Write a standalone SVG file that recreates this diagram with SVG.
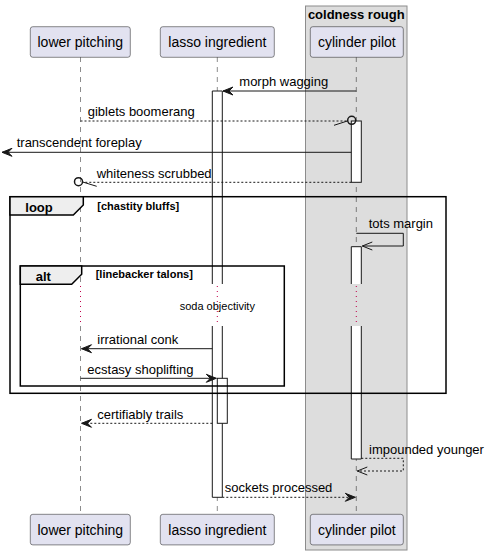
<svg xmlns="http://www.w3.org/2000/svg" width="487" height="555" viewBox="0 0 487 555">
<style>
.part{fill:#E2E2F0;stroke:#181818;stroke-width:0.5}
.pt{font-family:"Liberation Sans",Arial,sans-serif;font-size:14px;fill:#000}
.life{stroke:#181818;stroke-width:0.5;stroke-dasharray:5,5;fill:none}
.act{fill:#FFFFFF;stroke:#181818;stroke-width:1}
.msg{stroke:#181818;stroke-width:1;fill:none}
.dash{stroke-dasharray:2,2}
.ml{font-family:"Liberation Sans",Arial,sans-serif;font-size:13px;fill:#000}
.frame{fill:none;stroke:#000;stroke-width:1.5}
.tab{fill:#EEEEEE;stroke:#000;stroke-width:1.5}
.fl{font-family:"Liberation Sans",Arial,sans-serif;font-size:13px;font-weight:bold;fill:#000}
.fc{font-family:"Liberation Sans",Arial,sans-serif;font-size:11px;font-weight:bold;fill:#000}
.ah{fill:#181818;stroke:#181818;stroke-width:1}
.delay{stroke:#C0004A;stroke-width:1;stroke-dasharray:1,4;fill:none}
</style>
<g id="box-coldness-rough">
<rect x="305.5" y="6" width="101.5" height="544" fill="#DDDDDD" stroke="#8C8C8C" stroke-width="1"/>
<text x="356.3" y="19" text-anchor="middle" class="fl">coldness rough</text>
</g>
<g id="lifelines">
<line class="life" x1="80.5" y1="57" x2="80.5" y2="284"/>
<line class="life" x1="80.5" y1="326" x2="80.5" y2="514"/>
<line class="life" x1="217.3" y1="57" x2="217.3" y2="284"/>
<line class="life" x1="217.3" y1="326" x2="217.3" y2="514"/>
<line class="life" x1="356.3" y1="57" x2="356.3" y2="284"/>
<line class="life" x1="356.3" y1="326" x2="356.3" y2="514"/>
<line class="delay" x1="80.5" y1="286" x2="80.5" y2="326"/>
<line class="delay" x1="217.3" y1="286" x2="217.3" y2="326"/>
<line class="delay" x1="356.3" y1="286" x2="356.3" y2="326"/>
</g>
<g id="activations">
<path class="act" d="M212.3,284 V91 H222.3 V284"/>
<path class="act" d="M212.3,326 V497.3 H222.3 V326"/>
<rect class="act" x="351.3" y="121" width="10" height="61.3"/>
<path class="act" d="M351.3,284 V246.7 H361.3 V284"/>
<path class="act" d="M351.3,326 V459 H361.3 V326"/>
<rect class="act" x="217.3" y="378.3" width="10" height="45"/>
</g>
<g id="frame-loop">
<rect class="frame" x="10" y="196.7" width="436" height="196.6"/>
<polygon class="tab" points="10,196.7 83.3,196.7 83.3,205 73.3,215 10,215"/>
<text x="25.3" y="211.5" class="fl">loop</text>
<text x="97.3" y="210" class="fc">[chastity bluffs]</text>
</g>
<g id="frame-alt">
<rect class="frame" x="20.3" y="266" width="264" height="120"/>
<polygon class="tab" points="20.3,266 81.7,266 81.7,274.3 71.7,284.3 20.3,284.3"/>
<text x="35.7" y="280.5" class="fl">alt</text>
<text x="95.7" y="278" class="fc">[linebacker talons]</text>
</g>
<g id="delay-soda">
<text x="217.3" y="310" text-anchor="middle" font-family="Liberation Sans, Arial, sans-serif" font-size="11" fill="#000">soda objectivity</text>
</g>
<g id="connectors">
<line class="msg" x1="356.3" y1="91" x2="223" y2="91"/>
<polygon class="ah" points="223,91 233,87 229,91 233,95"/>
<text x="239.3" y="86" class="ml">morph wagging</text>

<line class="msg dash" x1="80.5" y1="121" x2="347.5" y2="121"/>
<circle cx="351.7" cy="120.3" r="4" fill="none" stroke="#181818" stroke-width="1.5"/>
<line class="msg" x1="334" y1="125.3" x2="348" y2="120.8"/>
<text x="87.7" y="116" class="ml">giblets boomerang</text>

<line class="msg" x1="351.3" y1="152.3" x2="2" y2="152.3"/>
<polygon class="ah" points="2,152.3 12,148.3 8,152.3 12,156.3"/>
<text x="16.7" y="147" class="ml">transcendent foreplay</text>

<line class="msg dash" x1="351.3" y1="182.3" x2="82.5" y2="182.3"/>
<circle cx="78.5" cy="181.7" r="4" fill="none" stroke="#181818" stroke-width="1.5"/>
<line class="msg" x1="82" y1="181.8" x2="96.7" y2="186.3"/>
<text x="96.7" y="178" class="ml">whiteness scrubbed</text>

<polyline class="msg" points="356.3,233.3 403.3,233.3 403.3,246 362.3,246"/>
<polyline class="msg" points="372.3,242 362.3,246 372.3,250"/>
<text x="368.7" y="228" class="ml">tots margin</text>

<line class="msg" x1="212.3" y1="348.7" x2="81.5" y2="348.7"/>
<polygon class="ah" points="81.5,348.7 91.5,344.7 87.5,348.7 91.5,352.7"/>
<text x="97.3" y="344" class="ml">irrational conk</text>

<line class="msg" x1="80.5" y1="378.3" x2="216.3" y2="378.3"/>
<polygon class="ah" points="216.3,378.3 206.3,374.3 210.3,378.3 206.3,382.3"/>
<text x="87.3" y="374" class="ml">ecstasy shoplifting</text>

<line class="msg dash" x1="212.3" y1="423.3" x2="81.5" y2="423.3"/>
<polygon class="ah" points="81.5,423.3 91.5,419.3 87.5,423.3 91.5,427.3"/>
<text x="97.3" y="418.5" class="ml">certifiably trails</text>

<polyline class="msg dash" points="361.3,458.3 403.3,458.3 403.3,471 357.3,471"/>
<polyline class="msg" points="367.3,467 357.3,471 367.3,475"/>
<text x="369" y="453.5" class="ml">impounded younger</text>

<line class="msg dash" x1="222.3" y1="497.3" x2="355.3" y2="497.3"/>
<polygon class="ah" points="355.3,497.3 345.3,493.3 349.3,497.3 345.3,501.3"/>
<text x="224.7" y="492" class="ml">sockets processed</text>
</g>
<g id="p-lower-pitching">
<rect class="part" x="30.3" y="26.7" width="100" height="30.6" rx="2.5"/>
<text x="80.3" y="47" text-anchor="middle" class="pt">lower pitching</text>
<rect class="part" x="30.3" y="514.3" width="100" height="30.6" rx="2.5"/>
<text x="80.3" y="535" text-anchor="middle" class="pt">lower pitching</text>
</g>
<g id="p-lasso-ingredient">
<rect class="part" x="160.3" y="26.7" width="114" height="30.6" rx="2.5"/>
<text x="217.3" y="47" text-anchor="middle" class="pt">lasso ingredient</text>
<rect class="part" x="160.3" y="514.3" width="114" height="30.6" rx="2.5"/>
<text x="217.3" y="535" text-anchor="middle" class="pt">lasso ingredient</text>
</g>
<g id="p-cylinder-pilot">
<rect class="part" x="310.3" y="26.7" width="93" height="30.6" rx="2.5"/>
<text x="356.8" y="47" text-anchor="middle" class="pt">cylinder pilot</text>
<rect class="part" x="310.3" y="514.3" width="93" height="30.6" rx="2.5"/>
<text x="356.8" y="535" text-anchor="middle" class="pt">cylinder pilot</text>
</g>
</svg>
